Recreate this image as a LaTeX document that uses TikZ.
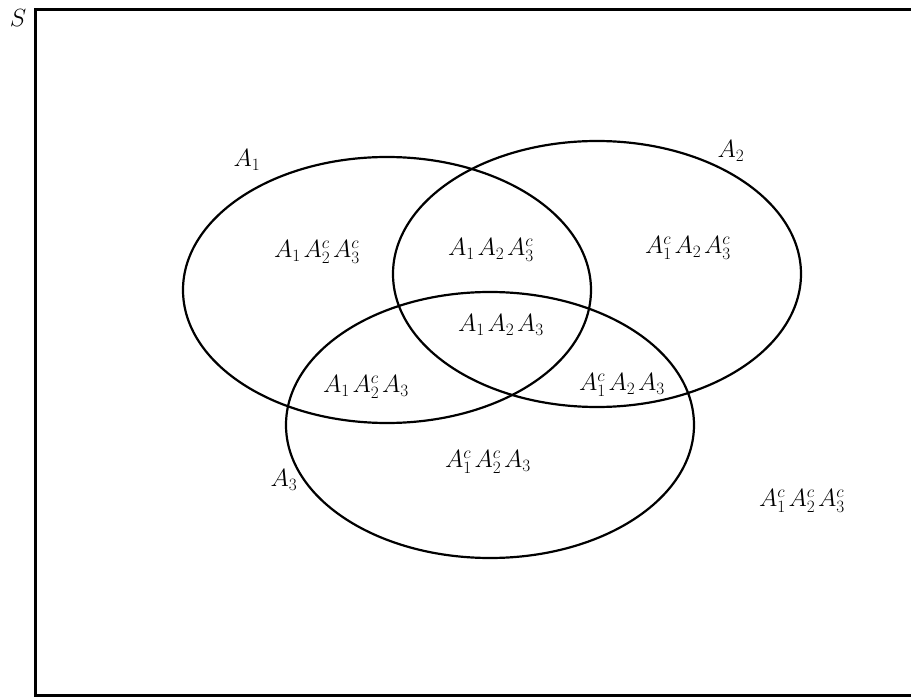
\documentclass[tikz,border=0pt]{standalone}
\usetikzlibrary{shapes.geometric}
\newcommand{\gp}{\mkern2mu}
\begin{document}
\begin{tikzpicture}[x=1pt,y=-1pt,
  setellipse/.style={draw, ellipse, line width=2.2pt, minimum width=408pt, minimum height=266pt, inner sep=0pt},
  lbl/.style={font=\fontsize{24}{28}\selectfont, inner sep=0pt},
  frame/.style={line width=3pt}]
\useasboundingbox (0,0) rectangle (911,700);
\coordinate (tr) at (911,10);
\coordinate (tl) at (35,10);
\coordinate (bl) at (35,695);
\coordinate (br) at (911,695);
\draw[frame] (tr) -- (tl) -- (bl) -- (br);
\node[lbl] (S) at (18,18) {$S$};
\node[setellipse] (E1) at (387,290) {};
\node[setellipse] (E2) at (597,274) {};
\node[setellipse] (E3) at (490,425) {};
\node[lbl] (L1) at (247,160) {$A_1$};
\node[lbl] (L2) at (731,151) {$A_2$};
\node[lbl] (L3) at (284,480) {$A_3$};
\node[lbl] (r100) at (317,252) {$A_1\gp A_2^c\gp A_3^c$};
\node[lbl] (r110) at (491,250) {$A_1\gp A_2\gp A_3^c$};
\node[lbl] (r010) at (688,248) {$A_1^c\gp A_2\gp A_3^c$};
\node[lbl] (r111) at (501,325) {$A_1\gp A_2\gp A_3$};
\node[lbl] (r101) at (366,387) {$A_1\gp A_2^c\gp A_3$};
\node[lbl] (r011) at (622,385) {$A_1^c\gp A_2\gp A_3$};
\node[lbl] (r001) at (488,462) {$A_1^c\gp A_2^c\gp A_3$};
\node[lbl] (r000) at (802,501) {$A_1^c\gp A_2^c\gp A_3^c$};
\end{tikzpicture}
\end{document}
